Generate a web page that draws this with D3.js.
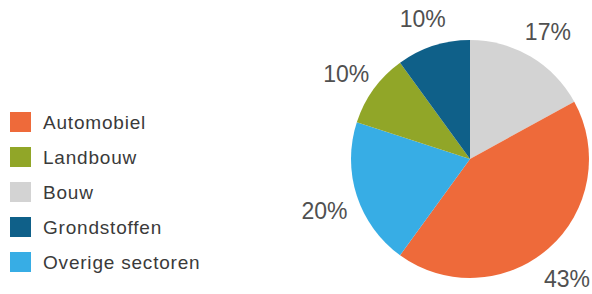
<!DOCTYPE html>
<html>
<head>
<meta charset="utf-8">
<script src="https://cdn.jsdelivr.net/npm/d3@7"></script>
<style>
  body { margin: 0; background: #fff; }
  svg { display: block; font-family: "Liberation Sans", Arial, sans-serif; }
</style>
</head>
<body>
<div id="container"></div>
<script>
const sectors = ["Bouw", "Automobiel", "Overige sectoren", "Landbouw", "Grondstoffen"];
const shares = [17, 43, 20, 10, 10];
const legendOrder = ["Automobiel", "Landbouw", "Bouw", "Grondstoffen", "Overige sectoren"];
const colors = ["#d3d3d3", "#ee6a3a", "#37ade5", "#91a628", "#0f6089"];

const width = 592, height = 294;

const svg = d3.select("#container")
  .append("svg")
  .attr("width", width)
  .attr("height", height);

const color = d3.scaleOrdinal().domain(sectors).range(colors);

// Pie
const cx = 470, cy = 159, radius = 119;
const pieG = svg.append("g").attr("transform", `translate(${cx},${cy})`);

const pie = d3.pie().sort(null).value(d => d.value);
const arcs = pie(sectors.map((s, i) => ({ name: s, value: shares[i] })));

const arc = d3.arc().innerRadius(0).outerRadius(radius);
const labelArc = d3.arc().innerRadius(153).outerRadius(153);

pieG.selectAll("path")
  .data(arcs)
  .join("path")
  .attr("d", arc)
  .attr("fill", d => color(d.data.name));

pieG.selectAll("text")
  .data(arcs)
  .join("text")
  .attr("text-anchor", "middle")
  .attr("dy", "0.35em")
  .attr("font-size", 23)
  .attr("fill", "#505050")
  .text(d => d.data.value + "%")
  .each(function(d) {
    // keep labels inside the picture
    const [lx, ly] = labelArc.centroid(d);
    const half = this.getComputedTextLength() / 2;
    const x = Math.min(lx, width - cx - half - 2);
    d3.select(this).attr("x", x).attr("y", ly + 5);
  });

// Legend
const legend = svg.append("g").attr("transform", "translate(10,112)");
const y = d3.scaleBand().domain(legendOrder).range([0, 175]).paddingInner(0);

const item = legend.selectAll("g")
  .data(legendOrder)
  .join("g")
  .attr("transform", d => `translate(0,${y(d)})`);

item.append("rect")
  .attr("width", 21)
  .attr("height", 20)
  .attr("fill", d => color(d));

item.append("text")
  .attr("x", 33)
  .attr("y", 17)
  .attr("font-size", 19)
  .attr("letter-spacing", 0.8)
  .attr("fill", "#3a3a3a")
  .text(d => d);
</script>
</body>
</html>
